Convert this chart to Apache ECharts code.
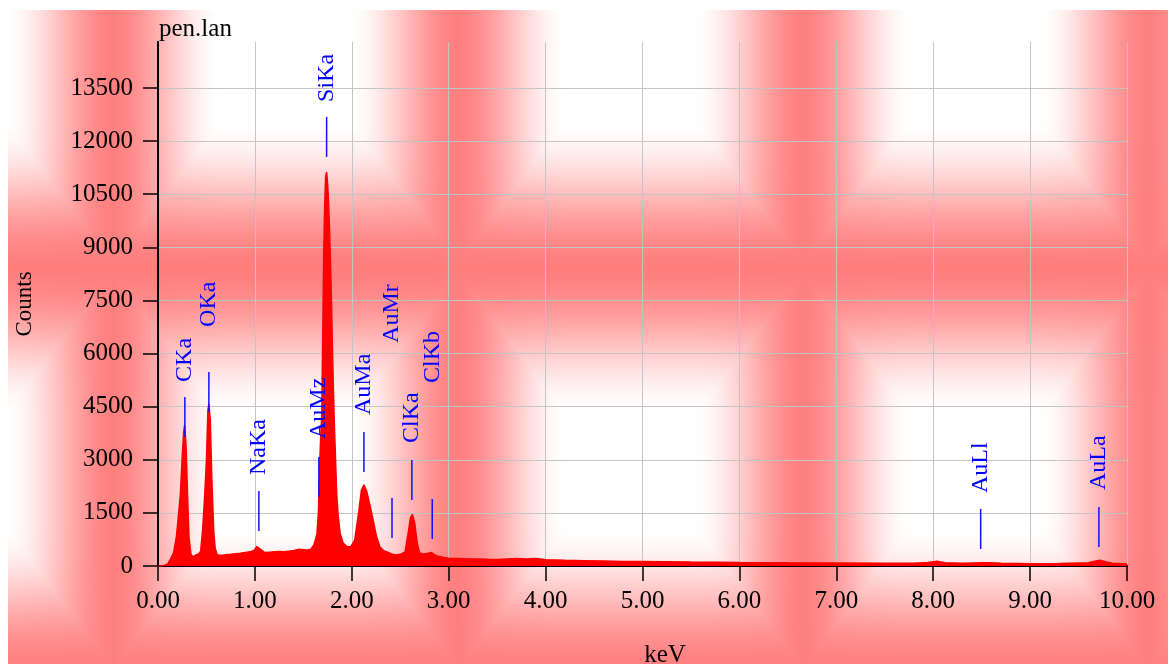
<!DOCTYPE html>
<html>
<head>
<meta charset="utf-8">
<script src="https://cdn.jsdelivr.net/npm/echarts@6/dist/echarts.min.js"></script>
<style>
html,body{margin:0;padding:0;background:#ffffff;}
#chart{width:1168px;height:664px;}
</style>
</head>
<body>
<div id="chart"></div>
<script>
// ---- Data ----
const chartTitle = 'pen.lan';
const xName = 'keV';
const yName = 'Counts';

// spectrum energies (keV) and counts
const energyKeV = [
  0.00,0.05,0.10,0.13,0.16,0.19,0.21,0.23,0.25,0.265,0.275,0.29,0.305,0.32,0.34,0.36,0.39,0.42,0.44,0.46,
  0.48,0.50,0.515,0.525,0.54,0.555,0.575,0.59,0.61,0.65,0.70,0.75,0.80,0.85,0.90,0.95,0.99,1.02,1.04,1.07,
  1.10,1.15,1.20,1.25,1.30,1.35,1.40,1.45,1.50,1.55,1.58,1.61,1.64,1.655,1.67,1.68,1.69,1.70,1.71,1.72,1.73,
  1.74,1.75,1.76,1.77,1.78,1.79,1.80,1.81,1.82,1.83,1.845,1.86,1.88,1.91,1.95,1.99,2.03,2.07,2.10,2.125,
  2.155,2.19,2.22,2.255,2.29,2.33,2.37,2.42,2.46,2.50,2.55,2.58,2.605,2.625,2.65,2.675,2.70,2.74,2.79,2.82,
  2.85,2.88,2.95,3.00,3.10,3.20,3.30,3.40,3.50,3.60,3.70,3.80,3.90,4.00,4.20,4.40,4.60,4.80,5.00,5.20,
  5.50,5.80,6.00,6.30,6.50,7.00,7.50,7.80,7.95,8.04,8.12,8.30,8.50,8.60,8.70,9.00,9.30,9.60,9.68,9.72,
  9.78,9.85,10.00
];
const counts = [
  0,0,60,200,370,830,1400,2000,3090,3800,3980,3370,2000,800,330,260,310,340,420,1000,
  1900,3000,4400,4580,4100,2500,1000,500,320,300,320,330,345,360,380,400,440,550,575,450,
  380,390,400,410,400,420,440,470,460,450,480,600,900,1490,3000,3700,4300,6500,8800,10200,11000,
  11130,10800,10300,9500,8600,7500,6200,5000,4000,3200,2000,1400,920,650,550,545,730,1500,2150,2290,
  2100,1680,1300,830,545,430,390,330,310,330,400,900,1350,1460,1200,640,370,340,360,385,
  330,280,240,220,210,195,200,190,185,200,215,195,210,175,160,150,140,130,125,120,
  110,105,100,95,90,85,80,80,100,135,95,80,90,95,80,65,70,90,140,160,
  120,80,60
];

// peak identification markers
const markerNames    = ['CKa','OKa','NaKa','AuMz','SiKa','AuMa','AuMr','ClKa','ClKb','AuLl','AuLa'];
const markerEnergies = [0.277,0.525,1.041,1.66,1.74,2.125,2.415,2.62,2.83,8.49,9.71];
const markerLineBase = [3644,4350,989,1949,11554,2656,791,1865,763,480,537];
const markerLabelBase= [5198,6752,2571,3588,13108,4266,6300,3475,5170,2062,2147];

// axes
const xMin = 0, xMax = 10, xStep = 1;
const yMin = 0, yMax = 14800, yStep = 1500;

// ---- Background (decorative pink pattern) ----
function smooth(a, b, t) {
  let k = Math.min(1, Math.max(0, (t - a) / (b - a)));
  return k * k * (3 - 2 * k);
}
function makeBackground(w, h) {
  const cv = document.createElement('canvas');
  cv.width = w; cv.height = h;
  const ctx = cv.getContext('2d');
  const im = ctx.createImageData(w, h);
  const d = im.data;
  const PX = 345, PY = 405, CX = 285, CY = 65, OX = 8, OY = 10;
  for (let y = 0; y < h; y++) {
    let ry = (((y + OY - CY) % PY) + PY) % PY;
    if (ry > PY / 2) ry = PY - ry;
    const ny = ry / (PY / 2);
    const v = smooth(0.26, 1.0, ny);
    for (let x = 0; x < w; x++) {
      let rx = (((x + OX - CX) % PX) + PX) % PX;
      if (rx > PX / 2) rx = PX - rx;
      const nx = rx / (PX / 2);
      const u = smooth(0.36, 1.02, nx);
      const s = Math.max(u, v) * 0.8 + (1 - (1 - u) * (1 - v)) * 0.2;
      const i = (y * w + x) * 4;
      const g = Math.round(255 - s * 128);
      d[i] = 255; d[i + 1] = g; d[i + 2] = g; d[i + 3] = 255;
    }
  }
  ctx.putImageData(im, 0, 0);
  return cv;
}

const FONT = '"Liberation Serif", "Times New Roman", serif';
const chart = echarts.init(document.getElementById('chart'), null, {renderer: 'canvas'});

const spectrum = energyKeV.map((e, i) => [e, counts[i]]);
const markers = markerEnergies.map((e, i) => [e, markerLineBase[i], markerLabelBase[i]]);

const option = {
  backgroundColor: '#ffffff',
  animation: false,
  graphic: [
    {
      type: 'image', x: 8, y: 10, z: -100, silent: true,
      style: {image: makeBackground(1160, 654), x: 0, y: 0, width: 1160, height: 654}
    },
    {
      type: 'text', x: 159, y: 29, z: 10,
      style: {text: chartTitle, fill: '#000', fontSize: 25, fontFamily: FONT, align: 'left', verticalAlign: 'middle'}
    }
  ],
  grid: {left: 158, right: 41, top: 42, bottom: 98, show: false, containLabel: false, outerBoundsMode: 'none'},
  xAxis: [
    {
      type: 'value', min: xMin, max: xMax, interval: xStep,
      name: xName, nameLocation: 'middle', nameGap: 77,
      nameTextStyle: {color: '#000', fontSize: 25, fontFamily: FONT, padding: [0, 0, 0, 45]},
      axisLine: {show: true, lineStyle: {color: '#000', width: 2}},
      axisTick: {show: true, inside: false, length: 15, lineStyle: {color: '#000', width: 1.5}},
      axisLabel: {color: '#000', fontSize: 25, fontFamily: FONT, margin: 23, formatter: v => v.toFixed(2)},
      splitLine: {show: true, lineStyle: {color: '#c4c4c4', width: 1}}
    },
    {
      type: 'value', position: 'top', min: xMin, max: xMax,
      axisLine: {show: true, lineStyle: {color: '#000', width: 2}},
      axisTick: {show: false}, axisLabel: {show: false}, splitLine: {show: false}
    }
  ],
  yAxis: [
    {
      type: 'value', min: yMin, max: yMax, interval: yStep,
      name: yName, nameLocation: 'middle', nameGap: 122,
      nameTextStyle: {color: '#000', fontSize: 23, fontFamily: FONT},
      axisLine: {show: true, lineStyle: {color: '#000', width: 2}},
      axisTick: {show: true, inside: false, length: 15, lineStyle: {color: '#000', width: 1.5}},
      axisLabel: {color: '#000', fontSize: 25, fontFamily: FONT, margin: 25, showMaxLabel: false,
                  formatter: v => String(v)},
      splitLine: {show: true, showMaxLine: false, lineStyle: {color: '#c4c4c4', width: 1}}
    },
    {
      type: 'value', position: 'right', min: yMin, max: yMax,
      axisLine: {show: true, lineStyle: {color: '#000', width: 2}},
      axisTick: {show: false}, axisLabel: {show: false}, splitLine: {show: false}
    }
  ],
  series: [
    {
      name: 'spectrum', type: 'line', data: spectrum, xAxisIndex: 0, yAxisIndex: 0,
      showSymbol: false, symbol: 'none', smooth: false,
      lineStyle: {color: '#ff0000', width: 1.5},
      areaStyle: {color: '#ff0000', opacity: 1, origin: 'start'},
      z: 3
    },
    {
      name: 'markers', type: 'custom', data: markers, xAxisIndex: 0, yAxisIndex: 0,
      clip: false, z: 5,
      renderItem: function (params, api) {
        const i = params.dataIndex;
        const p0 = api.coord([api.value(0), api.value(1)]);
        const pl = api.coord([api.value(0), api.value(2)]);
        return {
          type: 'group',
          children: [
            {type: 'line', shape: {x1: p0[0], y1: p0[1], x2: p0[0], y2: p0[1] - 40},
             style: {stroke: '#1010ff', lineWidth: 1.5}},
            {type: 'text', x: pl[0], y: pl[1], rotation: Math.PI / 2,
             style: {text: markerNames[i], fill: '#0000ff', fontSize: 24, fontFamily: FONT,
                     align: 'left', verticalAlign: 'middle'}}
          ]
        };
      }
    }
  ]
};
chart.setOption(option);
</script>
</body>
</html>
